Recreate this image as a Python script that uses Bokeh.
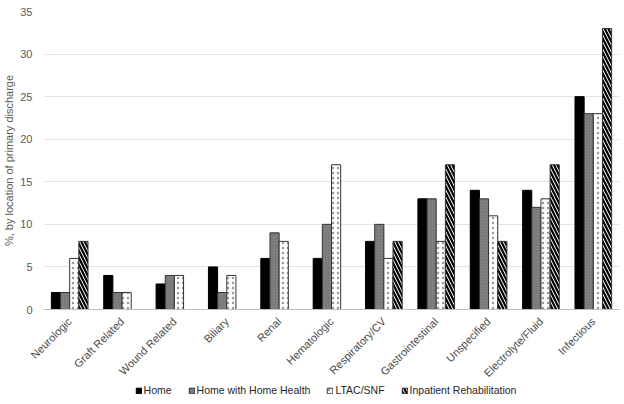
import math
from bokeh.plotting import figure
from bokeh.layouts import column
from bokeh.models import ColumnDataSource, Range1d, Legend, LegendItem
from bokeh.transform import dodge
from bokeh.embed import file_html
from bokeh.resources import INLINE

categories = ["Neurologic", "Graft Related", "Wound Related", "Biliary", "Renal",
              "Hematologic", "Respiratory/CV", "Gastrointestinal", "Unspecified",
              "Electrolyte/Fluid", "Infectious"]
home = [2, 4, 3, 5, 6, 6, 8, 13, 14, 14, 25]
home_health = [2, 2, 4, 2, 9, 10, 10, 13, 13, 12, 23]
ltac_snf = [6, 2, 4, 4, 8, 17, 6, 8, 11, 13, 23]
inpatient_rehab = [8, 0, 0, 0, 0, 0, 8, 17, 8, 17, 33]
series_names = ["Home", "Home with Home Health", "LTAC/SNF", "Inpatient Rehabilitation"]

source = ColumnDataSource(dict(cat=categories, home=home, hh=home_health,
                               ltac=ltac_snf, rehab=inpatient_rehab))

FONT = "Liberation Sans"
TXT = "#595959"

styles = [
    dict(fill_color="black", line_color="black"),
    dict(fill_color="#808080", line_color="#333333",
         hatch_pattern=".", hatch_color="#6a6a6a", hatch_scale=3, hatch_weight=1),
    dict(fill_color="white", line_color="#333333",
         hatch_pattern=".", hatch_color="#9a9a9a", hatch_scale=5, hatch_weight=1),
    dict(fill_color="white", line_color="#333333",
         hatch_pattern="\\", hatch_color="black", hatch_scale=7, hatch_weight=2.2),
]
cols = ["home", "hh", "ltac", "rehab"]
offsets = [-0.2625, -0.0875, 0.0875, 0.2625]

p = figure(x_range=categories, y_range=Range1d(0, 35),
           frame_width=576, frame_height=298,
           output_backend="svg", toolbar_location=None,
           min_border_left=32, min_border_right=4, min_border_top=11, min_border_bottom=60)
p.outline_line_color = None

bw = 0.175
for c, off, st in zip(cols, offsets, styles):
    p.vbar(x=dodge("cat", off, range=p.x_range), top=c, width=bw, source=source,
           line_width=1, **st)

p.xgrid.grid_line_color = None
p.ygrid.grid_line_color = "#e3e3e3"
p.ygrid.grid_line_width = 1
p.yaxis.ticker = [0, 5, 10, 15, 20, 25, 30, 35]

p.yaxis.axis_line_color = None
p.yaxis.major_tick_line_color = None
p.yaxis.minor_tick_line_color = None
p.yaxis.major_label_text_font = FONT
p.yaxis.major_label_text_font_size = "11px"
p.yaxis.major_label_text_color = TXT
p.yaxis.axis_label = "%, by location of primary discharge"
p.yaxis.axis_label_text_font = FONT
p.yaxis.axis_label_text_font_size = "11px"
p.yaxis.axis_label_text_font_style = "normal"
p.yaxis.axis_label_text_color = TXT
p.yaxis.axis_label_standoff = 2
p.yaxis.major_label_standoff = 5

p.xaxis.axis_line_color = "#bfbfbf"
p.xaxis.major_tick_line_color = None
p.xaxis.minor_tick_line_color = None
p.xaxis.major_label_orientation = math.pi / 4
p.xaxis.major_label_text_font = FONT
p.xaxis.major_label_text_font_size = "11px"
p.xaxis.major_label_text_color = "#4a4a4a"
p.xaxis.major_label_standoff = 4

# legend strip below the chart (swatch renderers sit outside the visible y range)
lg = figure(width=612, height=18, x_range=Range1d(0, 1), y_range=Range1d(0, 1),
            output_backend="svg", toolbar_location=None,
            x_axis_type=None, y_axis_type=None,
            min_border_left=0, min_border_right=0, min_border_top=0, min_border_bottom=0)
lg.outline_line_color = None
lg.xgrid.visible = False
lg.ygrid.visible = False
lg.margin = (-5, 0, 0, 0)
hidden = ColumnDataSource(dict(x=[0.5], top=[-4], bottom=[-5]))
lrs = [lg.vbar(x="x", top="top", bottom="bottom", width=0.1, source=hidden,
               line_width=1, **st) for st in styles]
legend = Legend(items=[LegendItem(label=n, renderers=[r]) for n, r in zip(series_names, lrs)],
                orientation="horizontal", location="center",
                glyph_width=7, glyph_height=7, spacing=16, padding=0, margin=0,
                label_text_font=FONT, label_text_font_size="10.5px",
                label_text_color="#262626", label_standoff=2,
                border_line_color=None, background_fill_alpha=0)
lg.add_layout(legend, "center")

layout = column(p, lg, spacing=0)
open("out.html", "w").write(file_html(layout, INLINE))
